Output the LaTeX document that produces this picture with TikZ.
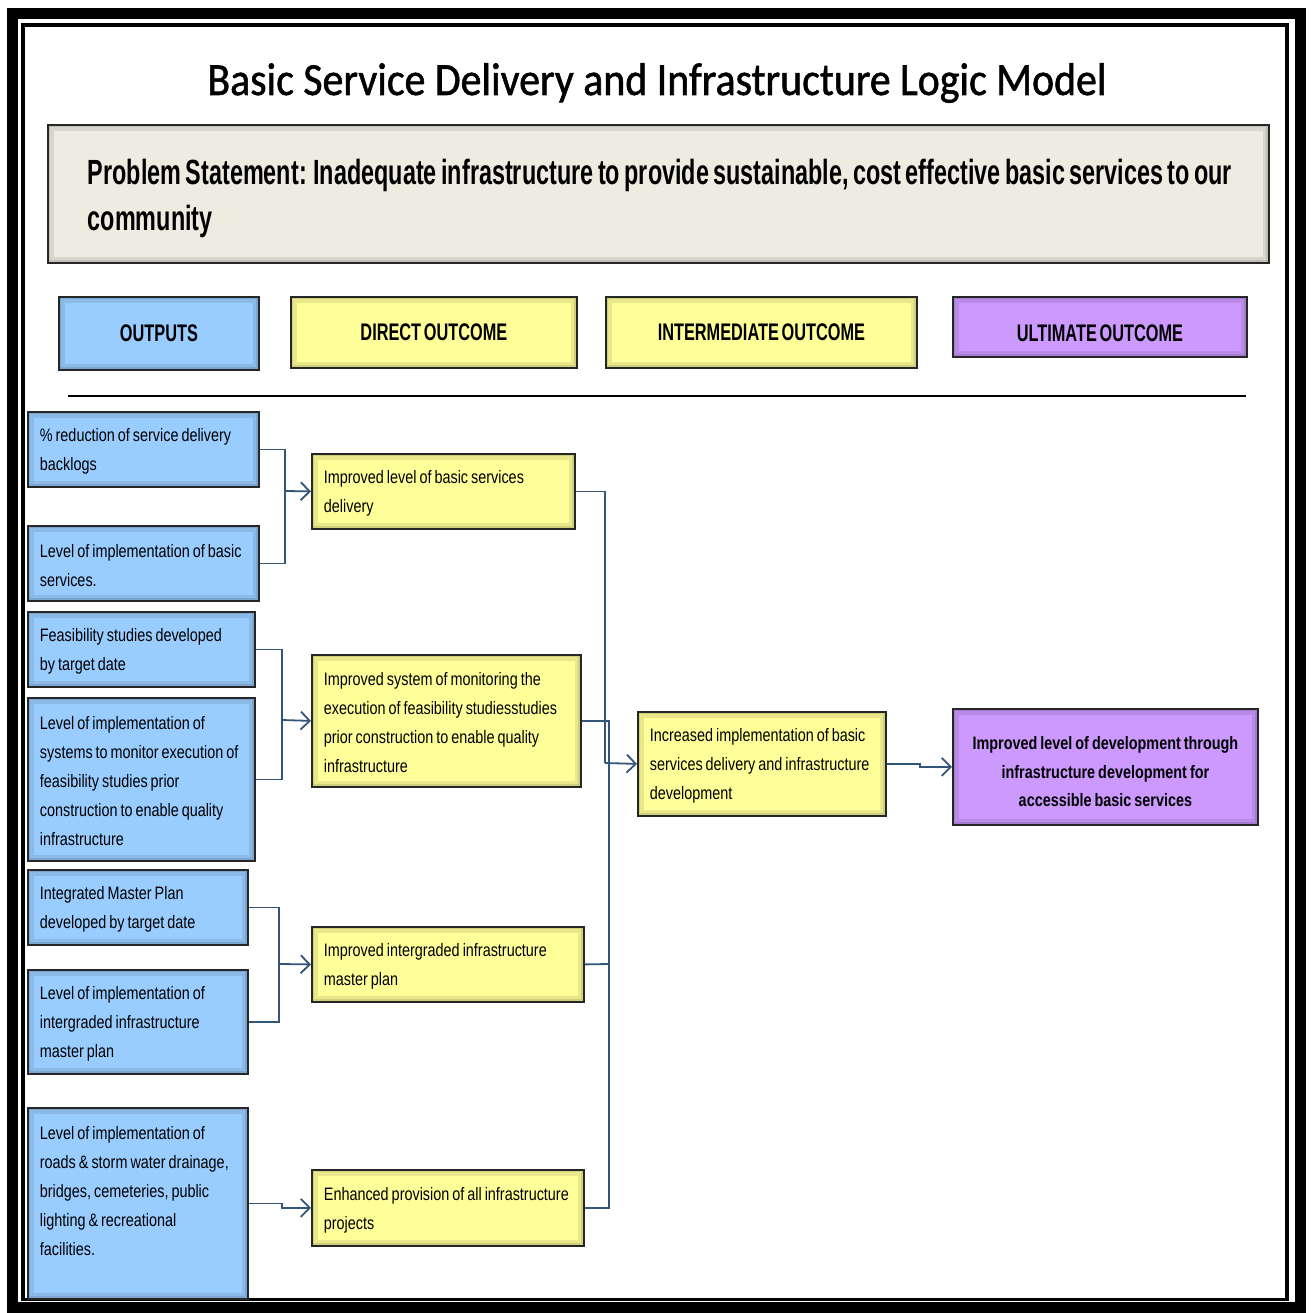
\documentclass[tikz,border=0pt]{standalone}
\usepackage{fontspec}
\setmainfont{Liberation Sans}
\newfontfamily\titlefont[FakeStretch=0.91, FakeBold=1.2]{Carlito}
\newfontfamily\probfont[FakeStretch=0.668, WordSpace=0.7]{Liberation Sans}
\newfontfamily\headfont[FakeStretch=0.68, WordSpace=0.6]{Liberation Sans}
\newfontfamily\boxfont[FakeStretch=0.8, WordSpace=0.75]{Liberation Sans}
\usetikzlibrary{
  arrows.meta,
  calc
}
\hyphenpenalty=10000
\exhyphenpenalty=10000
\definecolor{outblue}{HTML}{99CCFF}
\definecolor{diryellow}{HTML}{FFFF99}
\definecolor{ultpurple}{HTML}{CC99FF}
\definecolor{probgray}{HTML}{EEECE1}
\definecolor{linkblue}{HTML}{34557A}
\tikzset{
  glow/.style={
    path picture={
      \draw [line width=12pt, black, opacity=0.09]
      (path picture bounding box.south west) rectangle (path picture bounding box.north east);
      \draw [line width=5pt, black, opacity=0.10]
      (path picture bounding box.south west) rectangle (path picture bounding box.north east);
    }
  },
  drop/.style={execute at begin node={\rule{0pt}{#1}}},
  box/.style={
    draw=black!85, line width=1.8pt, glow, drop=17pt,
    anchor=north west, inner xsep=12pt, inner ysep=0pt,
    align=flush left, font=\boxfont\fontsize{18}{29}\selectfont
  },
  outbox/.style={box, fill=outblue},
  dirbox/.style={box, fill=diryellow},
  ultbox/.style={box, fill=ultpurple, align=flush center, drop=23pt,
    font=\boxfont\bfseries\fontsize{18}{28.5}\selectfont},
  headbox/.style={
    draw=black!85, line width=1.8pt, glow,
    anchor=north west, inner sep=0pt,
    font=\headfont\bfseries\fontsize{24}{28}\selectfont
  },
  link/.style={draw=linkblue, line width=1.8pt},
  arr/.style={link, -{Straight Barb[length=9pt,width=18pt]}}
}
\begin{document}
\begin{tikzpicture}[x=1pt, y=-1pt]
\useasboundingbox (0,0) rectangle (1311,1313);
% frame
\draw [line width=11pt] (12,13.5) rectangle (1300.5,1307);
\draw [line width=3.5pt] (23,25) rectangle (1287,1299.5);

\node [anchor=base] (title) at (657,95)
  {\titlefont\fontsize{46}{50}\selectfont Basic Service Delivery and Infrastructure Logic Model};
\node [box, fill=probgray, minimum height=138pt, text width=1141pt, inner xsep=40pt, drop=35pt,
  font=\probfont\bfseries\fontsize{35}{46}\selectfont] (prob) at (47,124)
  {\mbox{Problem Statement: Inadequate infrastructure to provide sustainable, cost effective basic services to our}\\community};

% column heads
\node [headbox, fill=outblue, minimum width=200pt, minimum height=73pt] (hout) at (58,296) {OUTPUTS};
\node [headbox, fill=diryellow, minimum width=286pt, minimum height=71pt] (hdir) at (290,296) {DIRECT OUTCOME};
\node [headbox, fill=diryellow, minimum width=311pt, minimum height=71pt] (hint) at (605,296) {INTERMEDIATE OUTCOME};
\node [headbox, fill=ultpurple, minimum width=294pt, minimum height=60pt] (hult) at (952,296)
  {\raisebox{-6pt}[\height][\depth]{ULTIMATE OUTCOME}};
\draw [line width=2pt] (68,396) -- (1246,396);

% outputs
\node [outbox, text width=207pt, minimum height=75pt] (o1) at (27,411)
  {\% reduction of service delivery\\backlogs};
\node [outbox, text width=207pt, minimum height=75pt] (o2) at (27,525)
  {Level of implementation of basic\\services.};
\node [outbox, text width=203pt, minimum height=75pt] (o3) at (27,611)
  {Feasibility studies developed\\by target date};
\node [outbox, text width=203pt, minimum height=163pt] (o4) at (27,697)
  {Level of implementation of\\systems to monitor execution of\\feasibility studies prior\\construction to enable quality\\infrastructure};
\node [outbox, text width=196pt, minimum height=75pt] (o5) at (27,869)
  {Integrated Master Plan\\developed by target date};
\node [outbox, text width=196pt, minimum height=104pt] (o6) at (27,969)
  {Level of implementation of\\intergraded infrastructure\\master plan};
\node [outbox, text width=196pt, minimum height=191pt] (o7) at (27,1107)
  {Level of implementation of\\roads \& storm water drainage,\\bridges, cemeteries, public\\lighting \& recreational\\facilities.\\[-1pt]\mbox{}};

% direct outcomes
\node [dirbox, text width=239pt, minimum height=75pt] (d1) at (311,453)
  {Improved level of basic services\\delivery};
\node [dirbox, text width=245pt, minimum height=132pt] (d2) at (311,654)
  {Improved system of monitoring the\\execution of feasibility studiesstudies\\prior construction to enable quality\\infrastructure};
\node [dirbox, text width=248pt, minimum height=75pt] (d3) at (311,926)
  {Improved intergraded infrastructure\\master plan};
\node [dirbox, text width=248pt, minimum height=76pt] (d4) at (311,1169)
  {Enhanced provision of all infrastructure\\projects};

% intermediate and ultimate
\node [dirbox, text width=224pt, minimum height=104pt] (i1) at (637,711)
  {Increased implementation of basic\\services delivery and infrastructure\\development};
\node [ultbox, text width=281pt, minimum height=116pt] (u1) at (952,708)
  {Improved level of development through\\infrastructure development for\\accessible basic services};

% connectors
\coordinate (j1) at (285,491);
\coordinate (j2) at (282,720);
\coordinate (j3) at (279,964);
\coordinate (ta) at (605,763);
\coordinate (tb) at (609,964);
\draw [link] (o1.east) -| (j1) |- (o2.east);
\draw [arr] (j1) -- (d1.west);
\draw [link] (o3.east) -| (j2) |- (o4.east);
\draw [arr] (j2) -- (d2.west);
\draw [link] (o5.east) -| (j3) |- (o6.east);
\draw [arr] (j3) -- (d3.west);
\draw [arr] (o7.east) -- ++(33,0) |- (d4.west);
\draw [link] (d1.east) -| (ta);
\draw [arr] (ta) -- (i1.west);
\draw [link] (d2.east) -| (tb) |- (d4.east);
\draw [link] (d3.east) -- (tb);
\draw [arr] (i1.east) -- ++(33,0) |- (u1.west);
\end{tikzpicture}
\end{document}
